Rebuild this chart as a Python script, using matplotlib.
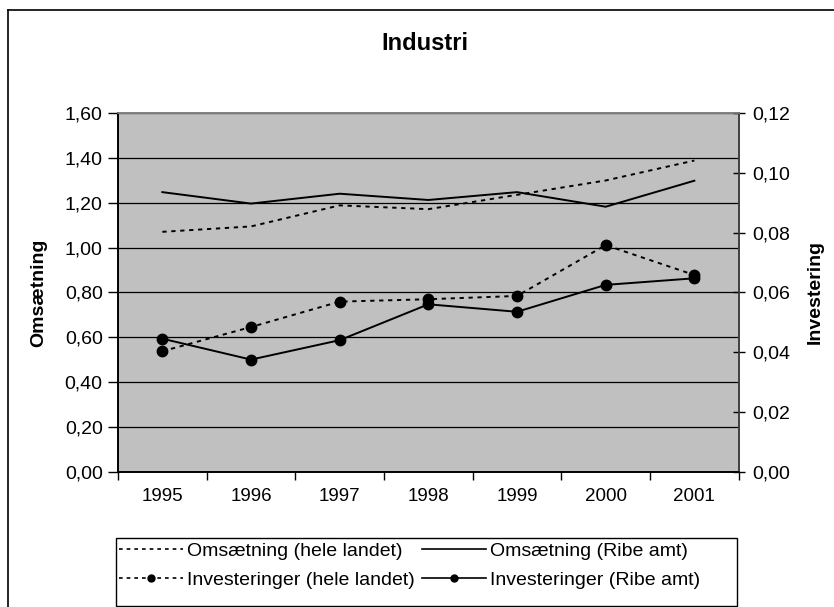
import matplotlib
matplotlib.use("Agg")
import matplotlib.pyplot as plt
from matplotlib.lines import Line2D
from matplotlib.patches import Rectangle
import numpy as np

plt.rcParams['font.family'] = ['Liberation Sans', 'DejaVu Sans']

years = ["1995", "1996", "1997", "1998", "1999", "2000", "2001"]
oms_landet = [1.070, 1.094, 1.188, 1.171, 1.235, 1.299, 1.388]
oms_ribe = [1.247, 1.196, 1.240, 1.212, 1.247, 1.182, 1.298]
inv_landet = [0.0403, 0.0484, 0.0569, 0.0577, 0.0588, 0.0758, 0.0658]
inv_ribe = [0.0445, 0.0375, 0.0440, 0.0560, 0.0535, 0.0625, 0.0647]

left_ticks = [0.0, 0.2, 0.4, 0.6, 0.8, 1.0, 1.2, 1.4, 1.6]
right_ticks = [0.0, 0.02, 0.04, 0.06, 0.08, 0.10, 0.12]

W, H = 834, 607
fig = plt.figure(figsize=(W / 100, H / 100), dpi=100)

# outer border
fig.add_artist(Line2D([8 / W, 8 / W], [0, 1 - 10 / H], color='black', lw=1.2, transform=fig.transFigure))
fig.add_artist(Line2D([8 / W, 1], [1 - 10 / H, 1 - 10 / H], color='black', lw=1.2, transform=fig.transFigure))

ax = fig.add_axes([118 / W, (H - 471.7) / H, (738.7 - 118) / W, (471.7 - 113) / H])
ax.set_facecolor('#C0C0C0')
x = np.arange(len(years))
dash = (0, (2.2, 2.4))

ax.set_ylim(0, 1.6)
ax.set_yticks(left_ticks)
ax.set_yticklabels([f"{v:.2f}".replace('.', ',') for v in left_ticks], fontsize=14)
ax.yaxis.grid(True, color='black', lw=0.9)
ax.set_axisbelow(True)
ax.set_xlim(-0.5, len(years) - 0.5)
ax.set_xticks(x)
ax.set_xticklabels(years, fontsize=13.5)
ax.tick_params(axis='x', which='major', length=0, pad=12)
ax.set_xticks(np.arange(-0.5, len(years), 1.0), minor=True)
ax.tick_params(axis='x', which='minor', length=6, width=1, direction='out')
ax.tick_params(axis='y', length=7, width=1, direction='out', pad=4)

l1, = ax.plot(x, oms_landet, color='black', lw=1.4, linestyle=dash, zorder=3)
l2, = ax.plot(x, oms_ribe, color='black', lw=1.4, zorder=3)

ax2 = ax.twinx()
ax2.set_ylim(0, 0.12)
ax2.set_yticks(right_ticks)
ax2.set_yticklabels([f"{v:.2f}".replace('.', ',') for v in right_ticks], fontsize=14)
ax2.tick_params(axis='y', length=9, width=1, direction='inout', pad=5)
l3, = ax2.plot(x, inv_landet, color='black', lw=1.4, linestyle=dash, marker='o', markersize=7.5, zorder=3)
l4, = ax2.plot(x, inv_ribe, color='black', lw=1.4, marker='o', markersize=7.5, zorder=3)

for a in (ax, ax2):
    a.spines['top'].set_color('#808080')
    a.spines['left'].set_color('black')
    a.spines['right'].set_color('#404040')
    a.spines['bottom'].set_color('black')
    for s in a.spines.values():
        s.set_linewidth(1.2)

ax.set_ylabel("Omsætning", fontsize=14, fontweight='bold')
ax.yaxis.set_label_coords((47 - 118) / (738.7 - 118), 0.5)
ax2.set_ylabel("Investering", fontsize=14, fontweight='bold', rotation=90)
ax2.yaxis.set_label_coords((807 - 118) / (738.7 - 118), 0.5)

fig.text(425 / W, 1 - 44 / H, "Industri", fontsize=17, fontweight='bold', ha='center', va='center')

# legend frame
fig.add_artist(Rectangle((116 / W, 1 - 606 / H), (737 - 116) / W, (606 - 538) / H,
                         transform=fig.transFigure, facecolor='white', edgecolor='black', lw=1.0, zorder=1))

lh1 = Line2D([], [], color='black', lw=1.2, linestyle=dash)
lh2 = Line2D([], [], color='black', lw=1.2)
lh3 = Line2D([], [], color='black', lw=1.2, linestyle=dash, marker='o', markersize=5)
lh4 = Line2D([], [], color='black', lw=1.2, marker='o', markersize=5)
leg = fig.legend([lh1, lh3, lh2, lh4],
                 ["Omsætning (hele landet)", "Investeringer (hele landet)",
                  "Omsætning (Ribe amt)", "Investeringer (Ribe amt)"],
                 ncol=2, loc='upper left',
                 bbox_to_anchor=(119 / W, 1 - 542 / H),
                 fontsize=14, frameon=False,
                 handlelength=3.3, handletextpad=0.2,
                 columnspacing=0.35, borderpad=0, labelspacing=0.6,
                 borderaxespad=0)
leg.set_zorder(2)

fig.savefig("out.png", dpi=100)
